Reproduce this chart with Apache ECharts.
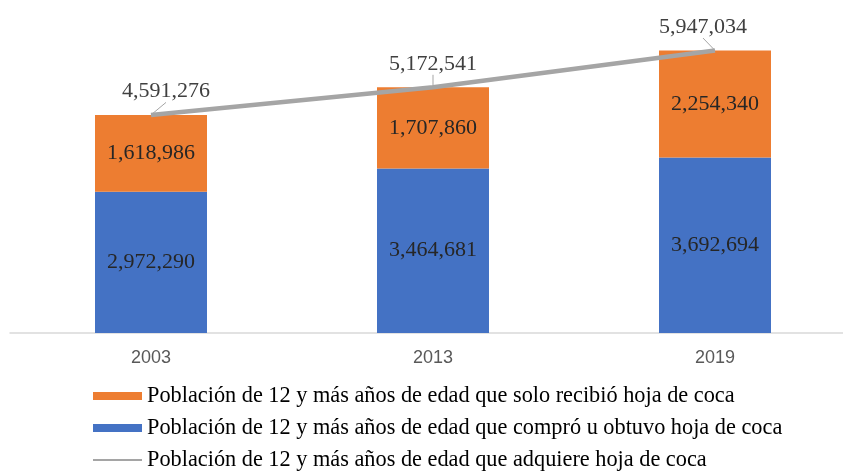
<!DOCTYPE html>
<html>
<head>
<meta charset="utf-8">
<script src="https://cdn.jsdelivr.net/npm/echarts@6/dist/echarts.min.js"></script>
<style>html,body{margin:0;padding:0;background:#fff;}#c{width:843px;height:471px;}</style>
</head>
<body>
<div id="c"></div>
<script>
var categories = ['2003', '2013', '2019'];
var comproValues = [2972290, 3464681, 3692694];
var recibioValues = [1618986, 1707860, 2254340];
var adquiereValues = [4591276, 5172541, 5947034];
var seriesNames = [
  'Población de 12 y más años de edad que solo recibió hoja de coca',
  'Población de 12 y más años de edad que compró u obtuvo hoja de coca',
  'Población de 12 y más años de edad que adquiere hoja de coca'
];

function fmt(v) { return v.toLocaleString('en-US'); }

var chart = echarts.init(document.getElementById('c'), null, {renderer: 'canvas'});
var serif = 'Liberation Serif';
var lineLabelDx = [15, 0, -12];
chart.setOption({
  animation: false,
  backgroundColor: '#ffffff',
  grid: {left: 10, width: 846, top: 48, bottom: 138, outerBoundsMode: 'none', containLabel: false},
  xAxis: {
    type: 'category',
    data: categories,
    axisLine: {lineStyle: {color: '#d9d9d9', width: 1.5}},
    axisTick: {show: false},
    axisLabel: {color: '#595959', fontFamily: 'Liberation Sans', fontSize: 18, margin: 16}
  },
  yAxis: {
    type: 'value', min: 0, max: 6000000, show: false,
    splitLine: {show: false}
  },
  legend: {
    orient: 'vertical',
    left: 92, top: 385, height: 120, padding: 0,
    itemWidth: 49, itemHeight: 8,
    itemGap: 10,
    textStyle: {fontFamily: serif, fontSize: 22.3, color: '#000', lineHeight: 22},
    data: [
      {name: seriesNames[0], icon: 'rect'},
      {name: seriesNames[1], icon: 'rect'},
      {name: seriesNames[2], itemStyle: {opacity: 0}}
    ]
  },
  series: [
    {
      name: seriesNames[1], type: 'bar', stack: 'a', barWidth: 112,
      data: comproValues,
      itemStyle: {color: '#4472C4'},
      label: {show: true, position: 'inside', fontFamily: serif, fontSize: 22, color: '#262626',
        formatter: function (p) { return fmt(p.value); }}
    },
    {
      name: seriesNames[0], type: 'bar', stack: 'a', barWidth: 112,
      data: recibioValues,
      itemStyle: {color: '#ED7D31'},
      label: {show: true, position: 'inside', fontFamily: serif, fontSize: 22, color: '#262626',
        formatter: function (p) { return fmt(p.value); }}
    },
    {
      name: seriesNames[2], type: 'line', data: adquiereValues,
      symbol: 'circle', symbolSize: 1, showSymbol: true,
      lineStyle: {color: '#A5A5A5', width: 4.5},
      itemStyle: {color: 'rgba(165,165,165,0)'},
      z: 5,
      label: {show: true, position: 'top', distance: 12, fontFamily: serif, fontSize: 22, color: '#404040',
        formatter: function (p) { return fmt(p.value); }},
      labelLine: {show: true, lineStyle: {color: '#A5A5A5', width: 1}},
      labelLayout: function (params) {
        return {dx: lineLabelDx[params.dataIndex], dy: 0};
      }
    }
  ]
});
</script>
</body>
</html>
